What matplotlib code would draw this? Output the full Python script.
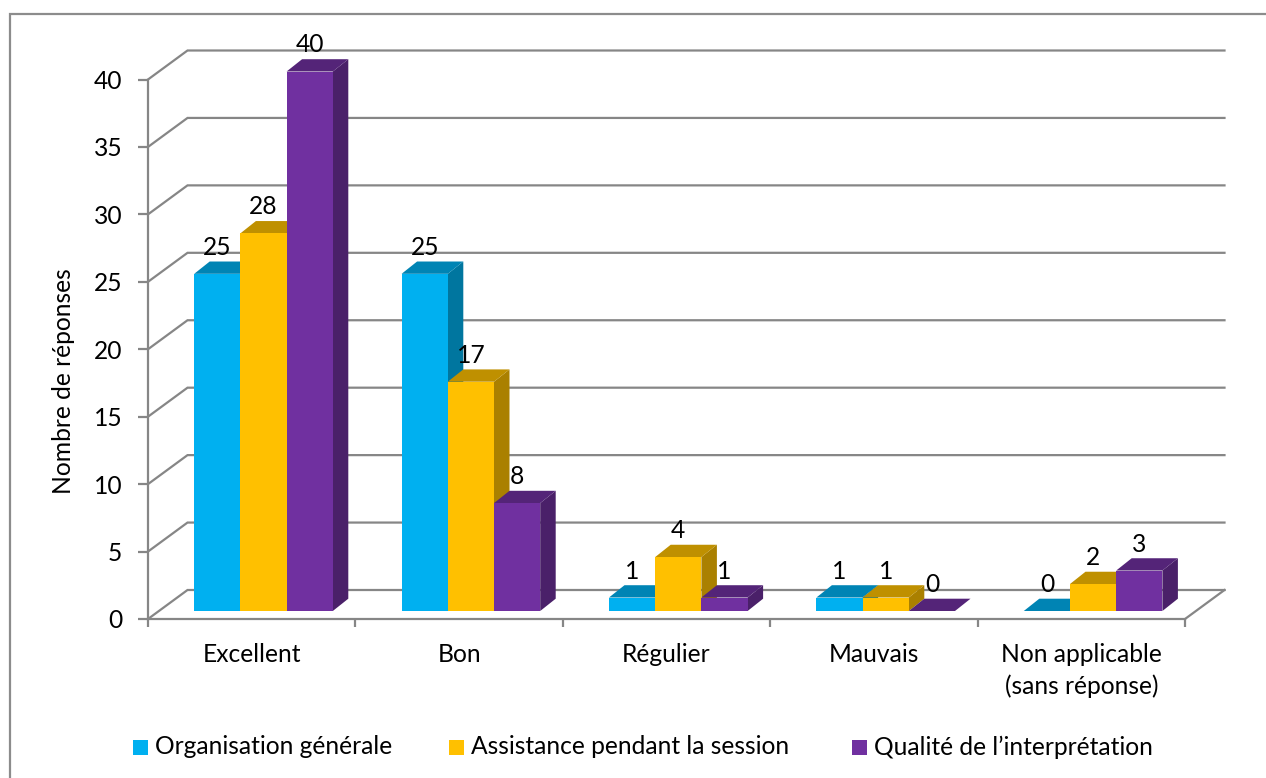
import matplotlib
matplotlib.use('Agg')
import matplotlib.pyplot as plt
from matplotlib.patches import Polygon, Rectangle

categories = ['Excellent', 'Bon', 'Régulier', 'Mauvais', 'Non applicable\n(sans réponse)']
organisation = [25, 25, 1, 1, 0]
assistance = [28, 17, 4, 1, 2]
qualite = [40, 8, 1, 0, 3]
series_names = ['Organisation générale', 'Assistance pendant la session', 'Qualité de l’interprétation']
y_ticks = [0, 5, 10, 15, 20, 25, 30, 35, 40]

front = ['#00B0F0', '#FFC000', '#7030A0']
top = ['#0084B4', '#BF9000', '#542478']
side = ['#00769F', '#AA8000', '#4A2069']
grid = '#868686'

W, H = 1266, 778
plt.rcParams['font.family'] = ['Lato', 'DejaVu Sans']
plt.rcParams['font.size'] = 17.7

fig = plt.figure(figsize=(W / 100, H / 100), dpi=100)


def fx(px):
    return px / W


def fy(py):
    return 1 - py / H


# frame of the chart area runs off the picture on the right and bottom
fig.add_artist(Rectangle((fx(10), fy(H + 20)), fx(W + 20), fy(13.5) - fy(H + 20), transform=fig.transFigure,
                         fill=False, edgecolor='#8C8C8C', linewidth=1.6))

ax = fig.add_axes([fx(148), fy(619), fx(1185 - 148), fy(79.5) - fy(619)])
ax.set_xlim(0, 5)
ax.set_ylim(0, 40)
ax.patch.set_visible(False)
xpx = 5 / 1037
ypx = 40 / 539.5

# back gridlines and the diagonals that go to them
back_x, back_y = 39.5 * xpx, 29 * ypx
for v in y_ticks:
    ax.plot([0, back_x, 5 + back_x], [v, v + back_y, v + back_y], color=grid, lw=1.6, clip_on=False, zorder=1,
            solid_joinstyle='miter')
ax.plot([5, 5 + back_x], [0, back_y], color=grid, lw=1.6, clip_on=False, zorder=1)

for s in ['top', 'right']:
    ax.spines[s].set_visible(False)
for s in ['left', 'bottom']:
    ax.spines[s].set_color(grid)
    ax.spines[s].set_linewidth(1.6)
    ax.spines[s].set_zorder(2)

ax.set_yticks(y_ticks)
ax.set_xticks(range(6))
ax.set_xticklabels([])
ax.tick_params(axis='y', length=7, width=1.6, color=grid, pad=11.5)
ax.tick_params(axis='x', length=6, width=1.6, color=grid)
for i, c in enumerate(categories):
    ax.text(i + 0.5, -1.8, c, ha='center', va='top', linespacing=1.39)
ax.text((64 - 148) * xpx, (619 - 381) * ypx, 'Nombre de réponses', rotation=90, ha='center', va='center')

# bars are drawn by hand to get the 3-d look of the original
bar_w = 46.2 / 207.4
base = 8 * ypx
dx, dy = 15.5 * xpx, 12.3 * ypx
for k, values in enumerate([organisation, assistance, qualite]):
    for i, v in enumerate(values):
        x0 = i + bar_w * (1 + k)
        x1 = x0 + bar_w
        y0 = base
        y1 = base + v
        z = 3 + k
        ax.add_patch(Polygon([(x1, y0), (x1 + dx, y0 + dy), (x1 + dx, y1 + dy), (x1, y1)], facecolor=side[k],
                             edgecolor='none', clip_on=False, zorder=z))
        ax.add_patch(Polygon([(x0, y1), (x0 + dx, y1 + dy), (x1 + dx, y1 + dy), (x1, y1)], facecolor=top[k],
                             edgecolor='none', clip_on=False, zorder=z))
        ax.add_patch(Rectangle((x0, y0), bar_w, v, facecolor=front[k], edgecolor='none', clip_on=False, zorder=z))
        ax.text((x0 + x1) / 2, y1 + 26.5 * ypx, str(v), ha='center', va='center', zorder=10, clip_on=False)

# legend
leg_sq = [133, 449, 852]
for k, name in enumerate(series_names):
    fig.add_artist(Rectangle((fx(leg_sq[k]), fy(755)), fx(15), fy(740) - fy(755), transform=fig.transFigure,
                             facecolor=front[k], edgecolor='none'))
    fig.text(fx(leg_sq[k] + 22), fy(747), name, ha='left', va='center')

fig.savefig('out.png', dpi=100)
